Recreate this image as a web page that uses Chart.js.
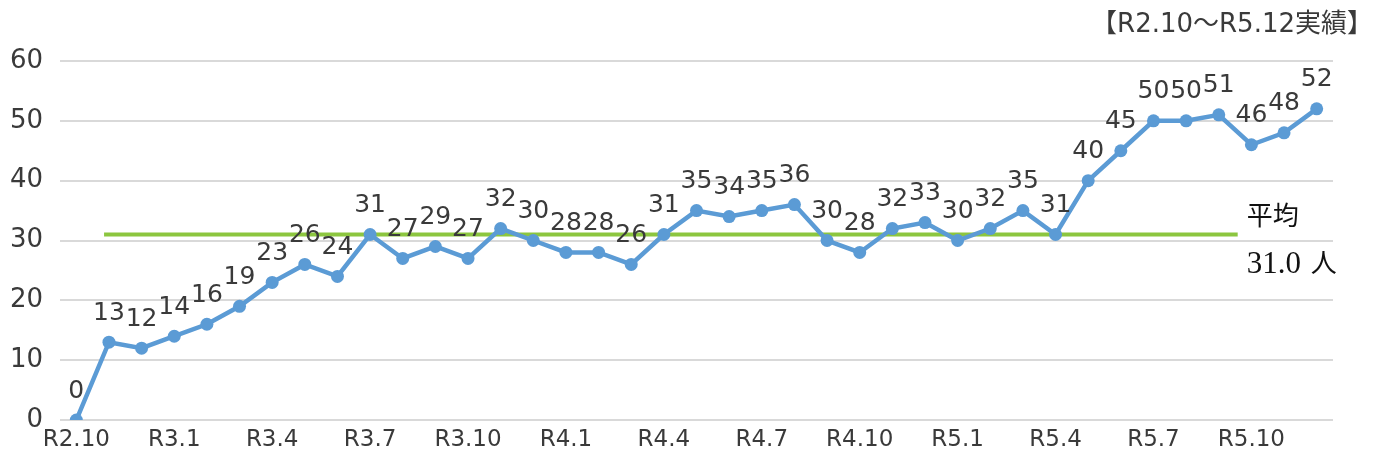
<!DOCTYPE html>
<html>
<head>
<meta charset="utf-8">
<script src="https://cdn.jsdelivr.net/npm/chart.js@4"></script>
<style>
  html, body { margin: 0; padding: 0; background: #fff; }
  #wrap { width: 1375px; height: 459px; }
</style>
</head>
<body>
<div id="wrap"><canvas id="c" width="1375" height="459"></canvas></div>
<script>
// monthly figures R2.10 - R5.12
const months = [
  'R2.10', 'R2.11', 'R2.12', 'R3.1', 'R3.2', 'R3.3', 'R3.4', 'R3.5', 'R3.6', 'R3.7',
  'R3.8', 'R3.9', 'R3.10', 'R3.11', 'R3.12', 'R4.1', 'R4.2', 'R4.3', 'R4.4', 'R4.5',
  'R4.6', 'R4.7', 'R4.8', 'R4.9', 'R4.10', 'R4.11', 'R4.12', 'R5.1', 'R5.2', 'R5.3',
  'R5.4', 'R5.5', 'R5.6', 'R5.7', 'R5.8', 'R5.9', 'R5.10', 'R5.11', 'R5.12'
];
const counts = [
  0, 13, 12, 14, 16, 19, 23, 26, 24, 31,
  27, 29, 27, 32, 30, 28, 28, 26, 31, 35,
  34, 35, 36, 30, 28, 32, 33, 30, 32, 35,
  31, 40, 45, 50, 50, 51, 46, 48, 52
];
const average = 31.0;
const avgSpan = [0.85, 35.58]; // category index range covered by the average line
const titleText = '【R2.10～R5.12実績】';
const avgCaption = '平均';
const avgValue = '31.0';
const avgUnit = '人';

const blue = '#5b9bd5';
const green = '#8cc63f';
const textColor = '#3a3a3a';

// value labels above each point
const valueLabels = {
  id: 'valueLabels',
  afterDatasetsDraw(chart) {
    const ctx = chart.ctx;
    const meta = chart.getDatasetMeta(0);
    ctx.save();
    ctx.font = '25px "DejaVu Sans"';
    ctx.fillStyle = textColor;
    ctx.textAlign = 'center';
    ctx.textBaseline = 'middle';
    meta.data.forEach((pt, i) => {
      ctx.fillText(String(counts[i]), pt.x, pt.y - 29);
    });
    ctx.restore();
  }
};

// average line + caption, title in the corner
const extras = {
  id: 'extras',
  beforeDatasetsDraw(chart) {
    const ctx = chart.ctx;
    const x = chart.scales.x, y = chart.scales.y;
    const yy = y.getPixelForValue(average);
    ctx.save();
    ctx.strokeStyle = green;
    ctx.lineWidth = 4;
    ctx.beginPath();
    ctx.moveTo(x.getPixelForValue(avgSpan[0]), yy);
    ctx.lineTo(x.getPixelForValue(avgSpan[1]), yy);
    ctx.stroke();
    ctx.restore();
  },
  afterDraw(chart) {
    const ctx = chart.ctx;
    const x = chart.scales.x, y = chart.scales.y;
    const yy = y.getPixelForValue(average);
    const tx = x.getPixelForValue(avgSpan[1]) + 9;
    ctx.save();
    ctx.fillStyle = '#111';
    ctx.textAlign = 'left';
    ctx.textBaseline = 'alphabetic';
    ctx.font = '26px "Noto Sans CJK JP"';
    ctx.fillText(avgCaption, tx, yy - 10);
    ctx.font = '31px "Liberation Serif"';
    ctx.fillText(avgValue, tx, yy + 38);
    const w = ctx.measureText(avgValue + ' ').width;
    ctx.font = '26px "Noto Sans CJK JP"';
    ctx.fillText(avgUnit, tx + w + 2, yy + 37);

    ctx.fillStyle = textColor;
    ctx.textAlign = 'right';
    ctx.textBaseline = 'middle';
    ctx.font = '26px "DejaVu Sans", "Noto Sans CJK JP"';
    ctx.fillText(titleText, chart.width - 2, 25);
    ctx.restore();
  }
};

new Chart(document.getElementById('c'), {
  type: 'line',
  data: {
    labels: months,
    datasets: [{
      data: counts,
      borderColor: blue,
      backgroundColor: blue,
      borderWidth: 4.5,
      pointRadius: 6.5,
      pointBorderWidth: 0,
      pointBackgroundColor: blue,
      tension: 0
    }]
  },
  options: {
    responsive: false,
    animation: false,
    layout: { padding: { top: 61, right: 42, left: 10, bottom: 4 } },
    plugins: {
      legend: { display: false },
      tooltip: { enabled: false }
    },
    scales: {
      x: {
        offset: true,
        grid: { display: false, drawTicks: false },
        border: { display: false },
        afterFit: (s) => { s.paddingLeft = 0; s.paddingRight = 0; s.height = 35; },
        ticks: {
          autoSkip: false,
          maxRotation: 0,
          padding: 6,
          color: textColor,
          font: { family: 'DejaVu Sans', size: 23 },
          callback: (v, i) => (i % 3 === 0 ? months[i] : '')
        }
      },
      y: {
        min: 0,
        max: 60,
        grid: { color: '#d9d9d9', lineWidth: 2, drawTicks: false },
        border: { display: false },
        afterFit: (s) => { s.width = 50; },
        ticks: {
          stepSize: 10,
          padding: 17,
          color: textColor,
          font: { family: 'DejaVu Sans', size: 26 }
        }
      }
    }
  },
  plugins: [extras, valueLabels]
});
</script>
</body>
</html>
